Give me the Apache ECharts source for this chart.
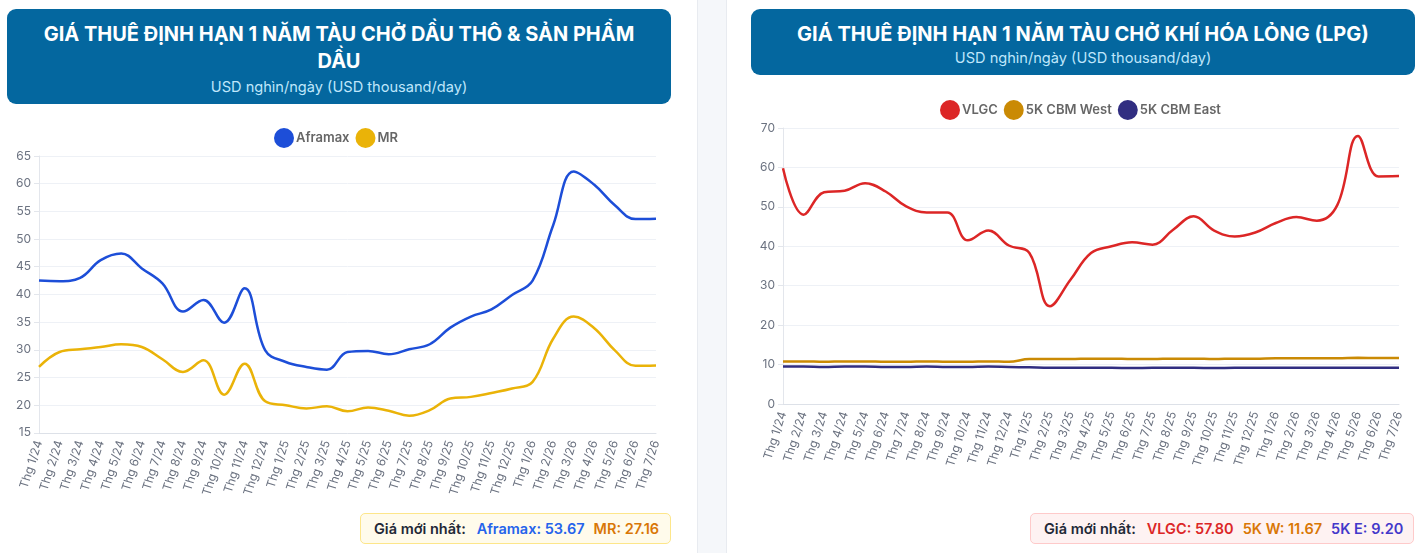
<!DOCTYPE html>
<html>
<head>
<meta charset="utf-8">
<script src="https://cdn.jsdelivr.net/npm/echarts@6/dist/echarts.min.js"></script>
<style>
  html, body { margin: 0; padding: 0; }
  body { width: 1419px; height: 553px; position: relative; overflow: hidden; background: #fff; font-family: Inter, "Noto Sans", sans-serif; }
  .strip { position: absolute; left: 697px; top: 0; width: 30px; height: 553px; background: #f5f7fa; border-left: 1px solid #e8ebf0; border-right: 1px solid #e8ebf0; box-sizing: border-box; }
  .head { position: absolute; background: #04679f; border-radius: 9px; color: #fff; text-align: center; box-sizing: border-box; }
  .head .t { font-weight: 700; font-size: 20px; line-height: 27px; }
  .head .s { color: #bfe6fb; font-size: 14.6px; line-height: 20px; margin-top: 2px; }
  .chart { position: absolute; }
  .foot { position: absolute; height: 31px; border-radius: 5px; box-sizing: border-box; font-weight: 600; font-size: 14.5px; line-height: 29px; padding: 0 0 0 13px; white-space: nowrap; }
  .foot span { margin-right: 9px; }
  .foot .k { color: #1f2937; margin-right: 11px; }
</style>
</head>
<body>
<div class="strip"></div>

<div class="head" style="left:7px;top:9px;width:664px;height:95px;padding-top:12px;">
  <div class="t">GIÁ THUÊ ĐỊNH HẠN 1 NĂM TÀU CHỞ DẦU THÔ &amp; SẢN PHẨM<br>DẦU</div>
  <div class="s">USD nghìn/ngày (USD thousand/day)</div>
</div>
<div class="head" style="left:751px;top:9px;width:664px;height:66px;padding-top:12px;">
  <div class="t">GIÁ THUÊ ĐỊNH HẠN 1 NĂM TÀU CHỞ KHÍ HÓA LỎNG (LPG)</div>
  <div class="s" style="margin-top:0">USD nghìn/ngày (USD thousand/day)</div>
</div>

<div id="oil" class="chart" style="left:0;top:110px;width:690px;height:390px;"></div>
<div id="lpg" class="chart" style="left:727px;top:80px;width:692px;height:420px;"></div>

<div class="foot" style="left:360px;top:513px;width:311px;background:#fffbeb;border:1px solid #fde68a;">
  <span class="k">Giá mới nhất:</span><span style="color:#2563eb">Aframax: 53.67</span><span style="color:#d97706">MR: 27.16</span>
</div>
<div class="foot" style="left:1030px;top:513px;width:384px;background:#fef2f2;border:1px solid #fecaca;">
  <span class="k">Giá mới nhất:</span><span style="color:#dc2626">VLGC: 57.80</span><span style="color:#d97706">5K W: 11.67</span><span style="color:#4338ca">5K E: 9.20</span>
</div>

<script>
// tháng: Thg 1/24 .. Thg 7/26
const months = ['Thg 1/24','Thg 2/24','Thg 3/24','Thg 4/24','Thg 5/24','Thg 6/24','Thg 7/24','Thg 8/24','Thg 9/24','Thg 10/24','Thg 11/24','Thg 12/24',
  'Thg 1/25','Thg 2/25','Thg 3/25','Thg 4/25','Thg 5/25','Thg 6/25','Thg 7/25','Thg 8/25','Thg 9/25','Thg 10/25','Thg 11/25','Thg 12/25',
  'Thg 1/26','Thg 2/26','Thg 3/26','Thg 4/26','Thg 5/26','Thg 6/26','Thg 7/26'];

// dầu thô & sản phẩm dầu
const aframax = [42.5, 42.4, 43.0, 46.2, 47.4, 44.7, 42.0, 36.9, 39.0, 34.9, 41.1, 29.9, 27.8, 26.9, 26.4, 29.6,
  29.8, 29.2, 30.1, 31.0, 34.0, 36.0, 37.3, 39.9, 42.5, 52.5, 62.2, 59.8, 56.1, 53.6, 53.67];
const mr = [26.9, 29.6, 30.1, 30.5, 31.0, 30.5, 28.3, 26.0, 28.1, 21.9, 27.5, 20.7, 20.0, 19.4, 19.8, 18.9,
  19.6, 19.0, 18.1, 19.1, 21.2, 21.5, 22.2, 23.0, 24.2, 32.0, 36.0, 33.9, 29.9, 27.1, 27.16];

// khí hóa lỏng
const vlgc = [59.8, 48.0, 53.7, 54.1, 56.0, 53.9, 50.1, 48.6, 48.6, 41.5, 44.0, 40.2, 38.3, 24.8, 31.5, 38.3,
  40.0, 41.0, 40.4, 44.2, 47.6, 44.0, 42.5, 43.5, 45.9, 47.4, 46.5, 50.5, 68.0, 57.7, 57.80];
const cbmWest = [10.8, 10.8, 10.7, 10.8, 10.8, 10.7, 10.7, 10.8, 10.7, 10.7, 10.8, 10.7, 11.4, 11.4, 11.4, 11.5,
  11.5, 11.4, 11.4, 11.5, 11.5, 11.4, 11.5, 11.5, 11.6, 11.6, 11.6, 11.6, 11.7, 11.67, 11.67];
const cbmEast = [9.5, 9.5, 9.4, 9.5, 9.5, 9.4, 9.4, 9.5, 9.4, 9.4, 9.5, 9.4, 9.3, 9.2, 9.2, 9.2,
  9.2, 9.1, 9.2, 9.2, 9.2, 9.1, 9.2, 9.2, 9.2, 9.2, 9.2, 9.2, 9.2, 9.2, 9.2];

const font = 'Inter, "Noto Sans", sans-serif';

function baseOption(grid, legendLeft, legendTop, yMin, yMax, yStep) {
  return {
    animation: false,
    textStyle: { fontFamily: font },
    legend: {
      left: legendLeft,
      top: legendTop,
      icon: 'circle',
      itemWidth: 20,
      itemHeight: 20,
      itemGap: 6,
      textStyle: { color: '#666', fontWeight: 600, fontSize: 13, fontFamily: font, padding: [0, 0, 0, -3] }
    },
    grid: grid,
    xAxis: {
      type: 'category',
      boundaryGap: false,
      data: months,
      axisLine: { lineStyle: { color: '#dde1e8' } },
      axisTick: { show: false },
      axisLabel: { rotate: 72, interval: 0, color: '#6b7280', fontSize: 12, fontFamily: font, margin: 8 }
    },
    yAxis: {
      type: 'value',
      min: yMin,
      max: yMax,
      interval: yStep,
      axisLine: { show: true, lineStyle: { color: '#e3e6ec' } },
      axisTick: { show: true, length: 5, lineStyle: { color: '#e3e6ec' } },
      axisLabel: { color: '#6b7280', fontSize: 12, fontFamily: font },
      splitLine: { lineStyle: { color: '#eef1f6' } }
    }
  };
}

function lineSeries(name, data, color) {
  return {
    name: name,
    type: 'line',
    data: data,
    smooth: 0.4,
    showSymbol: false,
    itemStyle: { color: color },
    lineStyle: { width: 2.5, color: color }
  };
}

const oilChart = echarts.init(document.getElementById('oil'));
const oilOpt = baseOption({ left: 39, right: 34, top: 46, bottom: 67 }, 269, 13, 15, 65, 5);
oilOpt.series = [
  lineSeries('Aframax', aframax, '#1d4ed8'),
  lineSeries('MR', mr, '#eab308')
];
oilChart.setOption(oilOpt);

const lpgChart = echarts.init(document.getElementById('lpg'));
const lpgOpt = baseOption({ left: 56, right: 20, top: 48, bottom: 96 }, 208, 15, 0, 70, 10);
lpgOpt.series = [
  lineSeries('VLGC', vlgc, '#dc2626'),
  lineSeries('5K CBM West', cbmWest, '#ca8a04'),
  lineSeries('5K CBM East', cbmEast, '#312e81')
];
lpgChart.setOption(lpgOpt);
</script>
</body>
</html>
